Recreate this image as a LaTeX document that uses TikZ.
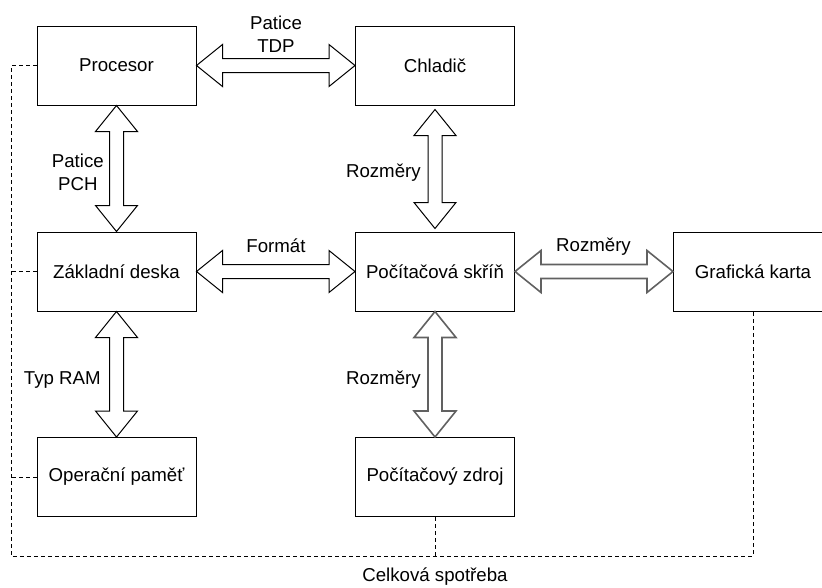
\documentclass[tikz,border=0pt]{standalone}
\usepackage{fontspec}
\setmainfont{Liberation Sans}
\usetikzlibrary{calc}
\newcommand{\fath}[3][]{% horizontal hollow double arrow from (#2) to (#3)
  \draw[#1] (#2) -- ($(#2)+(26,-21)$) -- ($(#2)+(26,-7)$)
    -- ($(#3)+(-26,-7)$) -- ($(#3)+(-26,-21)$) -- (#3)
    -- ($(#3)+(-26,21)$) -- ($(#3)+(-26,7)$)
    -- ($(#2)+(26,7)$) -- ($(#2)+(26,21)$) -- cycle;
}
\newcommand{\fatv}[3][]{% vertical hollow double arrow from (#2) down to (#3)
  \draw[#1] (#2) -- ($(#2)+(-21,26)$) -- ($(#2)+(-7,26)$)
    -- ($(#3)+(-7,-26)$) -- ($(#3)+(-21,-26)$) -- (#3)
    -- ($(#3)+(21,-26)$) -- ($(#3)+(7,-26)$)
    -- ($(#2)+(7,26)$) -- ($(#2)+(21,26)$) -- cycle;
}

\begin{document}
\begin{tikzpicture}[x=0.75pt,y=-0.75pt,
  box/.style={draw, line width=0.75pt, minimum width=119.25pt, minimum height=59.25pt,
    font=\fontsize{14}{17}\selectfont},
  lbl/.style={inner sep=0pt, align=center, font=\fontsize{14}{17}\selectfont},
  link/.style={line width=0.75pt, fill=white},
  linkgray/.style={line width=1.2pt, draw=black!62, fill=white},
  power/.style={line width=0.75pt, dash pattern=on 3pt off 2.25pt}]
  \useasboundingbox (0,0) rectangle (822,587);
  \clip (0,0) rectangle (822,587);

  % components
  \node[box] (proc) at (116.5,65.5) {Procesor};
  \node[box] (chl) at (435,65.5) {Chladič};
  \node[box] (zakl) at (116.5,271.5) {Základní deska};
  \node[box] (skr) at (435,271.5) {Počítačová skříň};
  \node[box] (karta) at (753,271.5) {Grafická karta};
  \node[box] (pam) at (116.5,477) {Operační paměť};
  \node[box] (zdroj) at (435,477) {Počítačový zdroj};

  % compatibility arrows
  \fath[link]{proc.east}{chl.west}
  \node[lbl] (tdp) at (276,34) {Patice\\TDP};
  \fatv[link]{proc.south}{zakl.north}
  \node[lbl, anchor=east] (pch) at (104,172) {Patice\\PCH};
  \fath[link]{zakl.east}{skr.west}
  \node[lbl] (fmt) at (276,246) {Formát};
  \coordinate (chltop) at ($(chl.south)+(0,4)$);
  \coordinate (skrtop) at ($(skr.north)+(0,-3)$);
  \fatv[link]{chltop}{skrtop}
  \node[lbl, anchor=east] (rozm1) at (421,173) {Rozměry};
  \fath[linkgray]{skr.east}{karta.west}
  \node[lbl] (rozm2) at (593.5,247) {Rozměry};
  \fatv[link]{zakl.south}{pam.north}
  \node[lbl, anchor=east] (ram) at (101,380) {Typ RAM};
  \fatv[linkgray]{skr.south}{zdroj.north}
  \node[lbl, anchor=east] (rozm3) at (421,380) {Rozměry};

  % total power
  \coordinate (busL) at (11,556);
  \coordinate (busR) at (karta.south |- busL);
  \draw[power] (proc.west) -| (busL) -- (busR) -- (karta.south);
  \draw[power] (zakl.west) -- (zakl.west -| busL);
  \draw[power] (pam.west) -- (pam.west -| busL);
  \draw[power] (zdroj.south) -- (zdroj.south |- busL);
  \node[lbl] (celk) at (435,577) {Celková spotřeba};
\end{tikzpicture}
\end{document}
